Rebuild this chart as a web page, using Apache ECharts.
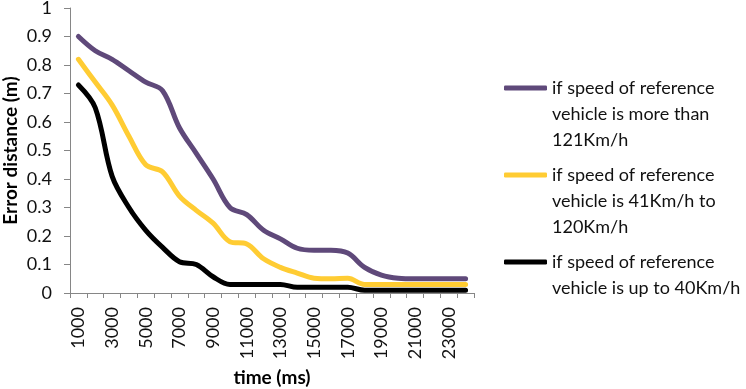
<!DOCTYPE html>
<html>
<head>
<meta charset="utf-8">
<script src="https://cdn.jsdelivr.net/npm/echarts@6/dist/echarts.min.js"></script>
<style>
    html, body { margin: 0; padding: 0; background: #fff; }
    #main { width: 746px; height: 389px; }
</style>
</head>
<body>
<div id="main"></div>
<script>
// time axis (ms)
var times = ['1000', '2000', '3000', '4000', '5000', '6000', '7000', '8000', '9000', '10000', '11000', '12000',
    '13000', '14000', '15000', '16000', '17000', '18000', '19000', '20000', '21000', '22000', '23000', '24000'];

var fastSpeed = [0.90, 0.85, 0.82, 0.78, 0.74, 0.71, 0.58, 0.49, 0.40, 0.30, 0.275, 0.22,
    0.19, 0.157, 0.15, 0.15, 0.14, 0.09, 0.063, 0.052, 0.05, 0.05, 0.05, 0.05];
var midSpeed = [0.82, 0.74, 0.66, 0.55, 0.45, 0.425, 0.34, 0.29, 0.245, 0.18, 0.172, 0.12,
    0.09, 0.07, 0.052, 0.05, 0.052, 0.03, 0.03, 0.03, 0.03, 0.03, 0.03, 0.03];
var slowSpeed = [0.73, 0.65, 0.41, 0.30, 0.22, 0.16, 0.11, 0.10, 0.057, 0.03, 0.03, 0.03,
    0.03, 0.02, 0.02, 0.02, 0.02, 0.01, 0.01, 0.01, 0.01, 0.01, 0.01, 0.01];

var seriesNames = [
    'if speed of reference\nvehicle is more than\n121Km/h',
    'if speed of reference\nvehicle is 41Km/h to\n120Km/h',
    'if speed of reference\nvehicle is up to 40Km/h'
];
var colors = ['#5f497a', '#ffcc33', '#000000'];

var FONT = 'Lato, "Open Sans", sans-serif';
var LH = 26;

function makeLegend(i, iconY) {
    var n = seriesNames[i].split('\n').length;
    var pad = new Array(n).join('\n');   // n-1 blank lines on top
    return {
        data: [seriesNames[i]],
        orient: 'vertical',
        left: 504,
        top: iconY - (2 * n - 1) / 2 * LH,
        padding: 0,
        icon: 'roundRect',
        itemWidth: 43,
        itemHeight: 5,
        // blank lines on top so the first text line sits beside the icon
        formatter: function (name) { return pad + name; },
        textStyle: {
            color: '#111',
            fontFamily: FONT,
            fontSize: 18,
            lineHeight: LH
        }
    };
}

function makeSeries(i, data) {
    return {
        name: seriesNames[i],
        type: 'line',
        smooth: 0.35,
        symbol: 'none',
        lineStyle: { width: 5, color: colors[i], cap: 'round' },
        itemStyle: { color: colors[i] },
        data: data
    };
}

var myChart = echarts.init(document.getElementById('main'));
var option = {
    animation: false,
    grid: { left: 70, right: 272, top: 8, bottom: 96, outerBoundsMode: 'none', containLabel: false },
    legend: [makeLegend(0, 88), makeLegend(1, 175), makeLegend(2, 262)],
    xAxis: {
        type: 'category',
        data: times,
        boundaryGap: true,
        name: 'time (ms)',
        nameLocation: 'middle',
        nameGap: 75,
        nameMoveOverlap: false,
        nameTextStyle: { fontFamily: FONT, fontSize: 19, fontWeight: 'bold', color: '#000' },
        axisLine: { lineStyle: { color: '#868686', width: 1 } },
        axisTick: { show: true, interval: 0, length: 5, lineStyle: { color: '#868686' } },
        axisLabel: {
            interval: 1,
            rotate: 90,
            margin: 14,
            fontFamily: FONT,
            fontSize: 18,
            color: '#111'
        },
        splitLine: { show: false }
    },
    yAxis: {
        type: 'value',
        min: 0,
        max: 1,
        interval: 0.1,
        name: 'Error distance (m)',
        nameLocation: 'middle',
        nameGap: 50,
        nameMoveOverlap: false,
        nameTextStyle: { fontFamily: FONT, fontSize: 19, fontWeight: 'bold', color: '#000' },
        axisLine: { show: true, lineStyle: { color: '#868686', width: 1 } },
        axisTick: { show: true, length: 6, lineStyle: { color: '#868686' } },
        axisLabel: {
            margin: 18,
            fontFamily: FONT,
            fontSize: 18,
            color: '#111',
            formatter: function (v) { return String(Math.round(v * 10) / 10); }
        },
        splitLine: { show: false }
    },
    series: [
        makeSeries(0, fastSpeed),
        makeSeries(1, midSpeed),
        makeSeries(2, slowSpeed)
    ]
};
myChart.setOption(option);
</script>
</body>
</html>
